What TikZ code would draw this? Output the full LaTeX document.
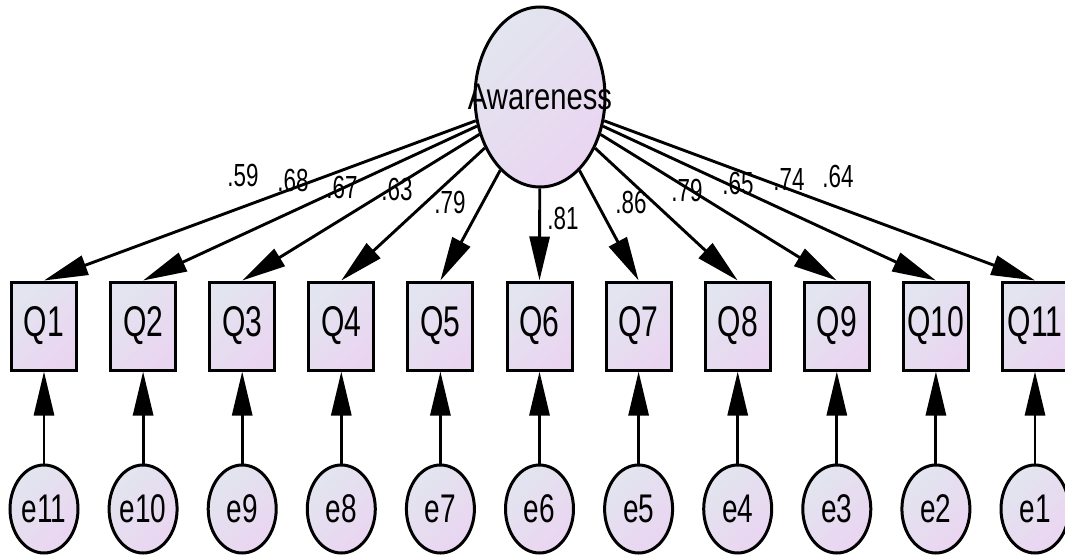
\documentclass[tikz,border=0pt]{standalone}
\usepackage{fontspec}
\setmainfont{Liberation Sans}
\newfontfamily\wideface[FakeStretch=0.79]{Liberation Sans}
\newfontfamily\narrowface[FakeStretch=0.7]{Liberation Sans}
\usetikzlibrary{shapes.geometric,arrows.meta}
\definecolor{fillA}{HTML}{E2E5EF}
\definecolor{fillB}{HTML}{EAD5F1}

\begin{document}
\begin{tikzpicture}[x=1pt,y=-1pt,
  shaded/.style={draw=black, line width=3pt, top color=fillA, bottom color=fillB, shading angle=45},
  latent/.style={shaded, ellipse, minimum width=130pt, minimum height=180pt, inner sep=0pt},
  observed/.style={shaded, rectangle, minimum width=65pt, minimum height=88pt, inner sep=0pt,
    font=\narrowface\fontsize{43}{43}\selectfont},
  errterm/.style={shaded, ellipse, minimum width=68pt, minimum height=88pt, inner sep=0pt,
    font=\narrowface\fontsize{40}{40}\selectfont},
  regarrow/.style={line width=2.9pt, -{Triangle[length=44pt,width=20pt]}},
  coef/.style={font=\narrowface\fontsize{32}{32}\selectfont, inner sep=0pt},
]
\useasboundingbox (0,0) rectangle (1065,554);

% latent factor
\node[latent] (aw) at (540,97) {};
\node[font=\wideface\fontsize{37}{37}\selectfont, inner sep=0pt] (awtext) at (aw.center) {Awareness};

% items, error terms and paths
\foreach \i in {1,...,11}{
  \pgfmathsetmacro\xx{44+(\i-1)*99.1}
  \pgfmathtruncatemacro\j{12-\i}
  \node[observed] (q\i) at (\xx,326) {Q\i};
  \node[errterm] (e\j) at (\xx,509) {e\j};
  \draw[regarrow] (aw) -- (q\i.north);
  \draw[regarrow] (e\j) -- (q\i);
}

% standardized loadings
\foreach \x/\y/\t [count=\k] in {243/175/.59, 293/180/.68, 342/187/.67, 397/189/.63, 450/202/.79,
    563/218/.81, 631/202/.86, 687/190/.79, 738/183/.65, 789/179/.74, 838/176/.64}{
  \node[coef] (c\k) at (\x,\y) {\t};
}
\end{tikzpicture}
\end{document}
